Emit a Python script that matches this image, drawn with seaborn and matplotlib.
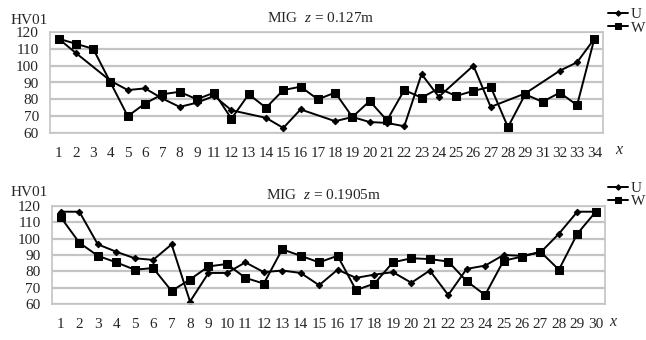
import numpy as np
import pandas as pd
import matplotlib
matplotlib.use('Agg')
import matplotlib.pyplot as plt
import seaborn as sns

sns.set_style('white')
plt.rcParams['font.family'] = ['Liberation Serif', 'DejaVu Serif']
plt.rcParams['mathtext.fontset'] = 'custom'
plt.rcParams['mathtext.it'] = 'Liberation Serif:italic'
plt.rcParams['mathtext.rm'] = 'Liberation Serif'

# top panel: MIG z = 0.127m (10 and 30 are not measured)
top_labels = [str(i) for i in range(1, 10)] + [str(i) for i in range(11, 30)] + [str(i) for i in range(31, 35)]
top_u = [116, 107.5, np.nan, 91, 85.5, 86.5, 80.5, 75.5, 78, 82, 73.5, np.nan, 69, 63, 74, np.nan,
         67, 69.5, 66.5, 66, 64, 95, 81.5, np.nan, 100, 75.5, np.nan, 83.5, np.nan, 97, 102, 116]
top_w = [116, 113, 110, 90, 70, 77.5, 83, 84.5, 80, 84, 68.5, 83, 75, 85.5, 87.5, 80,
         84, 69.5, 79, 67.5, 85.5, 81, 86.5, 82, 85, 87.5, 63.5, 83, 78.5, 84, 76.5, 116]

# bottom panel: MIG z = 0.1905m
bot_labels = [str(i) for i in range(1, 31)]
bot_u = [116.5, 116.5, 96.5, 92, 88, 87, 96.5, 61.5, 79, 79, 85.5, 79.5, 80.5, 79, 71.5,
         81, 76, 78, 79.5, 73, 80.5, 65.5, 81.5, 83.5, 90, 89.5, 91.5, 103, 116.5, 116.5]
bot_w = [113, 97.5, 89.5, 85.5, 81, 82, 68, 75, 83, 84.5, 76, 72.5, 93.5, 89.5, 85.5,
         89.5, 68.5, 72.5, 85.5, 88, 87.5, 86, 74, 65.5, 86.5, 89, 92, 81, 103, 116.5]

W, H = 646, 340
FS = 11
fig = plt.figure(figsize=(W / 100, H / 100), dpi=100)


def draw(ax, labels, u, w):
    df = pd.DataFrame({'pos': np.arange(len(labels)), 'U': u, 'W': w})
    # U has gaps, the line just joins the measured points
    sns.lineplot(data=df.dropna(subset=['U']), x='pos', y='U', ax=ax, color='black', lw=1.4,
                 marker='D', markersize=3.3, markeredgecolor='black', label='U')
    sns.lineplot(data=df, x='pos', y='W', ax=ax, color='black', lw=1.4,
                 marker='s', markersize=5.8, markeredgecolor='black', label='W')
    ax.set_xlim(-0.5, len(labels) - 0.5)
    ax.set_ylim(60, 120)
    ax.set_yticks(range(60, 121, 10))
    ax.set_xticks(df['pos'])
    ax.set_xticklabels(labels)
    ax.yaxis.grid(True, color='#c4c4c4', lw=1.6)
    ax.xaxis.grid(False)
    ax.tick_params(length=0, labelsize=FS)
    ax.tick_params(axis='x', pad=10)
    ax.tick_params(axis='y', pad=8)
    for s in ax.spines.values():
        s.set_color('#c4c4c4')
        s.set_linewidth(1.2)
    ax.set_xlabel('')
    ax.set_ylabel('')
    return ax


ax1 = fig.add_axes([50 / W, 1 - 133 / H, 553 / W, 101 / H])
draw(ax1, top_labels, top_u, top_w)
ax1.legend(loc='center left', bbox_to_anchor=(608 / W, 1 - 21 / H), bbox_transform=fig.transFigure,
           frameon=False, fontsize=FS, handlelength=1.3, handletextpad=0.2, labelspacing=0.0,
           borderaxespad=0, borderpad=0, markerscale=0.85)

ax2 = fig.add_axes([51.7 / W, 1 - 304 / H, 553.3 / W, 98 / H])
draw(ax2, bot_labels, bot_u, bot_w)
ax2.legend(loc='center left', bbox_to_anchor=(608 / W, 1 - 195 / H), bbox_transform=fig.transFigure,
           frameon=False, fontsize=FS, handlelength=1.3, handletextpad=0.2, labelspacing=-0.05,
           borderaxespad=0, borderpad=0, markerscale=0.85)

fig.text(11 / W, 1 - 20 / H, 'HV01', fontsize=FS, va='center', ha='left')
fig.text(11 / W, 1 - 193 / H, 'HV01', fontsize=FS, va='center', ha='left')
fig.text(321 / W, 1 - 18 / H, r'MIG  $z$ = 0.127m', fontsize=FS, va='center', ha='center')
fig.text(324 / W, 1 - 195 / H, r'MIG  $z$ = 0.1905m', fontsize=FS, va='center', ha='center')
fig.text(620 / W, 1 - 150 / H, r'$x$', fontsize=FS + 0.5, va='center', ha='center')
fig.text(614 / W, 1 - 322 / H, r'$x$', fontsize=FS + 0.5, va='center', ha='center')

fig.savefig('out.png', dpi=100)
